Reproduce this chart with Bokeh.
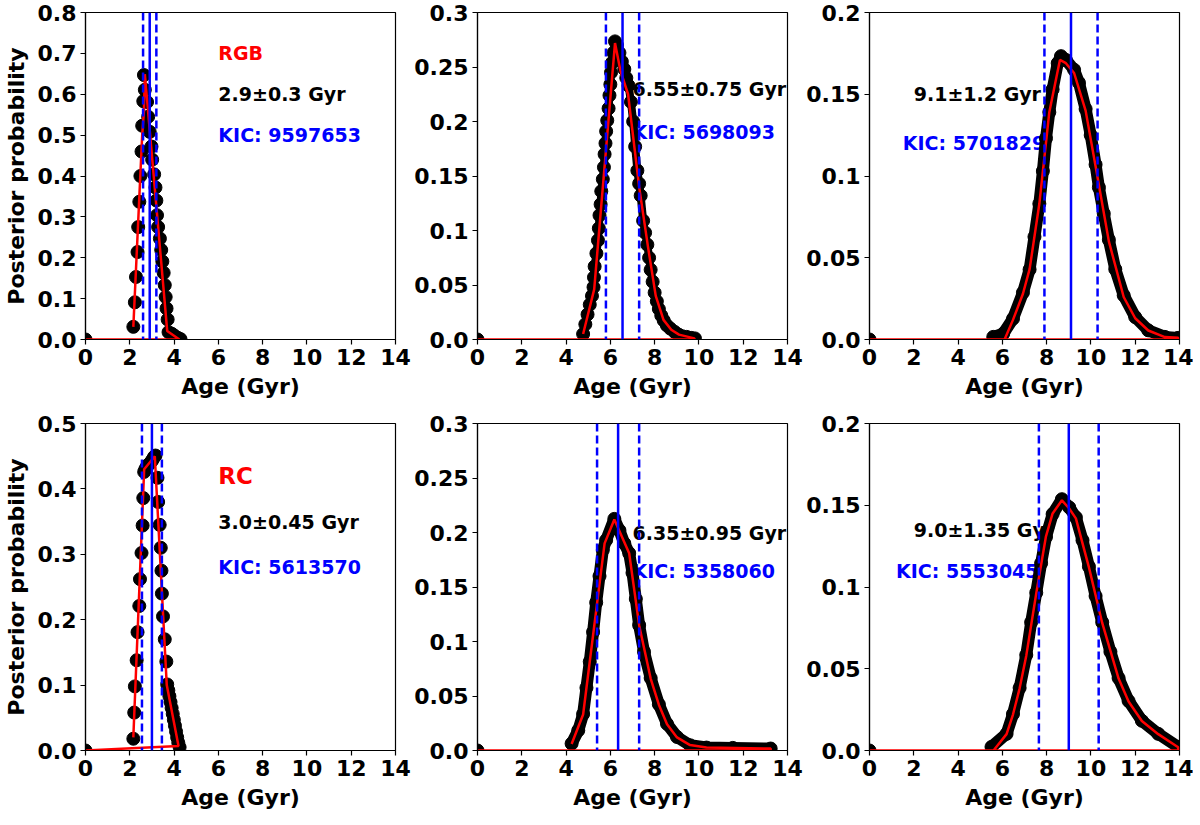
from bokeh.plotting import figure
from bokeh.layouts import column, row
from bokeh.models import Range1d, FixedTicker, Span, CustomJSTickFormatter
from bokeh.core.properties import value
from bokeh.embed import file_html
from bokeh.resources import INLINE

# panels: RGB top row, RC bottom row (young, mid, old star)
kic = ["KIC: 9597653", "KIC: 5698093", "KIC: 5701829",
       "KIC: 5613570", "KIC: 5358060", "KIC: 5553045"]
age_med = [2.9, 6.55, 9.1, 3.0, 6.35, 9.0]
age_err = [0.3, 0.75, 1.2, 0.45, 0.95, 1.35]
age_text = ["2.9±0.3 Gyr", "6.55±0.75 Gyr", "9.1±1.2 Gyr",
            "3.0±0.45 Gyr", "6.35±0.95 Gyr", "9.0±1.35 Gyr"]
age_text_x = [6, 7, 2, 6, 7, 2]
age_text_y = [0.6, 0.23, 0.15, 0.35, 0.2, 0.135]
kic_x = [6, 7, 1.5, 6, 7, 1.2]
kic_y = [0.5, 0.19, 0.12, 0.28, 0.165, 0.11]
branch = ["RGB", "", "", "RC", "", ""]
branch_x = [6, 6, 6, 6, 6, 6]
branch_y = [0.7, 0, 0, 0.42, 0, 0]
ymax = [0.8, 0.3, 0.2, 0.5, 0.3, 0.2]

xticks = [0, 2, 4, 6, 8, 10, 12, 14]
yticks = [
    [0, 0.1, 0.2, 0.3, 0.4, 0.5, 0.6, 0.7, 0.8],
    [0, 0.05, 0.1, 0.15, 0.2, 0.25, 0.3],
    [0, 0.05, 0.1, 0.15, 0.2],
    [0, 0.1, 0.2, 0.3, 0.4, 0.5],
    [0, 0.05, 0.1, 0.15, 0.2, 0.25, 0.3],
    [0, 0.05, 0.1, 0.15, 0.2],
]

# posterior samples (black dots)
age_tl = [0, 2.16, 2.23, 2.28, 2.35, 2.38, 2.43, 2.48, 2.53, 2.56, 2.61, 2.64,
          2.68, 2.78, 2.83, 2.90, 2.98, 3.01, 3.10, 3.16, 3.20, 3.23, 3.28, 3.36,
          3.42, 3.47, 3.53, 3.58, 3.62, 3.66, 3.71, 3.75, 3.90, 4.02, 4.17, 4.29]
post_tl = [0, 0.031, 0.091, 0.153, 0.214, 0.275, 0.337, 0.400, 0.460, 0.523, 0.583, 0.647,
           0.611, 0.581, 0.545, 0.508, 0.472, 0.440, 0.404, 0.372, 0.340, 0.304, 0.275, 0.247,
           0.219, 0.191, 0.163, 0.133, 0.104, 0.076, 0.049, 0.018, 0.014, 0.009, 0.004, 0.001]

age_tm = [0, 4.77, 4.87, 4.97, 5.07, 5.17, 5.24, 5.26, 5.29, 5.37, 5.44, 5.48, 5.51,
          5.56, 5.59, 5.66, 5.71, 5.74, 5.78, 5.81, 5.86, 5.92, 5.96, 6.00, 6.03, 6.08,
          6.14, 6.21, 6.30, 6.41, 6.52, 6.63, 6.72, 6.82, 6.93, 7.03, 7.12, 7.22, 7.30,
          7.37, 7.48, 7.57, 7.67, 7.75, 7.82, 7.91, 8.00, 8.10, 8.19, 8.30, 8.41, 8.55,
          8.71, 8.90, 9.08, 9.25, 9.45, 9.65, 9.82]
post_tm = [0, 0.005, 0.014, 0.023, 0.032, 0.040, 0.048, 0.057, 0.067, 0.079, 0.091, 0.102,
           0.114, 0.124, 0.136, 0.147, 0.158, 0.170, 0.180, 0.191, 0.201, 0.212, 0.224,
           0.234, 0.245, 0.254, 0.263, 0.2735, 0.270, 0.263, 0.255, 0.248, 0.240, 0.233,
           0.218, 0.200, 0.177, 0.155, 0.143, 0.132, 0.109, 0.098, 0.087, 0.075, 0.064,
           0.053, 0.043, 0.035, 0.028, 0.022, 0.0175, 0.013, 0.010, 0.007, 0.0045, 0.003,
           0.0024, 0.0015, 0.001]

age_tr = [0, 5.59, 6.04, 6.48, 6.93, 7.23, 7.45, 7.67, 7.83, 7.97, 8.12, 8.27, 8.50,
          8.65, 8.87, 9.24, 9.46, 9.76, 9.99, 10.21, 10.36, 10.58, 10.81, 11.10, 11.48,
          12.0, 12.59, 13.34, 13.94]
post_tr = [0, 0.0016, 0.0036, 0.0127, 0.0287, 0.0428, 0.0628, 0.083, 0.103, 0.123, 0.139,
           0.153, 0.169, 0.1733, 0.171, 0.165, 0.157, 0.141, 0.125, 0.107, 0.093, 0.077,
           0.061, 0.043, 0.027, 0.0137, 0.0056, 0.0016, 0.001]

age_bl = [0, 2.16, 2.20, 2.23, 2.31, 2.35, 2.43, 2.46, 2.53, 2.58, 2.61, 2.65, 2.70,
          2.75, 2.80, 2.85, 2.90, 2.95, 3.00, 3.05, 3.10, 3.16, 3.25, 3.28, 3.35, 3.40,
          3.43, 3.45, 3.50, 3.58, 3.65, 3.69, 3.74, 3.79, 3.84, 3.89, 3.94, 3.99, 4.04,
          4.09, 4.14, 4.19, 4.25]
post_bl = [0, 0.018, 0.058, 0.098, 0.138, 0.181, 0.221, 0.262, 0.302, 0.344, 0.386, 0.426,
           0.430, 0.433, 0.436, 0.437, 0.439, 0.441, 0.443, 0.446, 0.449, 0.451, 0.417,
           0.380, 0.345, 0.310, 0.275, 0.240, 0.205, 0.170, 0.136, 0.101, 0.092, 0.083,
           0.074, 0.065, 0.056, 0.047, 0.038, 0.029, 0.020, 0.012, 0.005]

age_bm = [0, 4.25, 4.55, 4.77, 4.92, 5.07, 5.22, 5.36, 5.51, 5.66, 5.81, 6.18, 6.41,
          6.63, 6.85, 7.00, 7.15, 7.30, 7.52, 7.82, 8.19, 8.56, 9.01, 9.60, 10.34, 11.53,
          13.24]
post_bm = [0, 0.0063, 0.0184, 0.0334, 0.0575, 0.0815, 0.1086, 0.1357, 0.160, 0.184, 0.193,
           0.2125, 0.202, 0.190, 0.181, 0.163, 0.139, 0.115, 0.0906, 0.0665, 0.0424, 0.0244,
           0.0124, 0.0048, 0.0027, 0.0024, 0.0018]

age_br = [0, 5.51, 6.19, 6.48, 6.78, 7.08, 7.30, 7.53, 7.75, 7.97, 8.27, 8.69, 9.02,
          9.32, 9.62, 9.91, 10.21, 10.51, 10.88, 11.25, 11.70, 12.30, 13.04, 13.94]
post_br = [0, 0.0022, 0.0102, 0.0223, 0.0383, 0.0584, 0.0784, 0.0965, 0.1145, 0.1306,
           0.1446, 0.1537, 0.1487, 0.1426, 0.1286, 0.1125, 0.0945, 0.0784, 0.0604, 0.0443,
           0.0303, 0.0182, 0.0102, 0.0022]

# red curve (wraps back to age 0 along the axis)
fit_age_tl = [2.16, 2.56, 2.64, 2.68, 3.69, 4.24, 0]
fit_post_tl = [0.031, 0.50, 0.56, 0.649, 0.021, 0.0, 0]
fit_age_tm = [4.77, 5.27, 6.21, 6.45, 6.8, 7.3, 7.7, 8.05, 8.4, 8.75, 9.1, 9.8, 9.8, 0]
fit_post_tm = [0.005, 0.046, 0.272, 0.247, 0.225, 0.14, 0.085, 0.04, 0.018, 0.009, 0.0045,
               0.001, 0, 0]
fit_age_tr = [6.1, 6.48, 6.93, 7.23, 7.67, 8.12, 8.6, 8.87, 9.24, 9.76, 10.21, 10.81,
              11.48, 12.0, 12.59, 13.34, 13.94, 13.94, 0]
fit_post_tr = [0.0, 0.012, 0.028, 0.043, 0.083, 0.139, 0.171, 0.169, 0.163, 0.14, 0.106,
               0.06, 0.026, 0.013, 0.0055, 0.0015, 0.001, 0, 0]
fit_age_bl = [2.16, 2.65, 3.13, 3.67, 4.2, 0]
fit_post_bl = [0.02, 0.43, 0.45, 0.10, 0.007, 0]
fit_age_bm = [4.25, 4.77, 5.74, 6.18, 6.85, 7.3, 7.82, 8.19, 8.56, 9.01, 9.6, 10.34, 13.24,
              13.24, 0]
fit_post_bm = [0.006, 0.033, 0.19, 0.212, 0.181, 0.115, 0.066, 0.042, 0.024, 0.012, 0.005,
               0.0027, 0.0018, 0, 0]
fit_age_br = [5.6, 6.19, 6.48, 6.78, 7.08, 7.53, 7.97, 8.27, 8.69, 9.02, 9.32, 9.91, 10.51,
              11.25, 11.70, 12.30, 13.04, 13.94, 13.94, 0]
fit_post_br = [0.0, 0.01, 0.022, 0.038, 0.058, 0.096, 0.131, 0.145, 0.153, 0.148, 0.142,
               0.112, 0.078, 0.044, 0.030, 0.018, 0.010, 0.002, 0, 0]

ages = [age_tl, age_tm, age_tr, age_bl, age_bm, age_br]
posts = [post_tl, post_tm, post_tr, post_bl, post_bm, post_br]
fit_ages = [fit_age_tl, fit_age_tm, fit_age_tr, fit_age_bl, fit_age_bm, fit_age_br]
fit_posts = [fit_post_tl, fit_post_tm, fit_post_tr, fit_post_bl, fit_post_bm, fit_post_br]
band = [0, 8, 12, 0, 12, 12]

FONT = "DejaVu Sans"


def make_panel(i):
    col = i % 3
    top = i < 3
    p = figure(frame_width=310, frame_height=327,
               x_range=Range1d(0, 14), y_range=Range1d(0, ymax[i]),
               output_backend="svg", toolbar_location=None,
               min_border_left=80 if col == 0 else 64,
               min_border_right=16 if col < 2 else 14,
               min_border_top=12,
               min_border_bottom=72 if top else 60)
    p.background_fill_color = "white"
    p.border_fill_color = "white"
    p.outline_line_color = "black"
    p.outline_line_width = 1.2
    p.xgrid.visible = False
    p.ygrid.visible = False

    p.xaxis.ticker = FixedTicker(ticks=xticks, minor_ticks=[])
    p.yaxis.ticker = FixedTicker(ticks=yticks[i], minor_ticks=[])
    p.yaxis.formatter = CustomJSTickFormatter(
        code="return tick == 0 ? '0.0' : String(Math.round(tick * 100) / 100);")
    p.xaxis.axis_label = "Age (Gyr)"
    if col == 0:
        p.yaxis.axis_label = "Posterior probability"
    for ax in p.axis:
        ax.major_label_text_font = FONT
        ax.major_label_text_font_style = "bold"
        ax.major_label_text_font_size = "22px"
        ax.major_label_text_color = "black"
        ax.axis_label_text_font = FONT
        ax.axis_label_text_font_style = "bold"
        ax.axis_label_text_font_size = "22px"
        ax.axis_label_text_color = "black"
        ax.axis_label_standoff = 6
        ax.major_label_standoff = 4
        ax.major_tick_in = 0
        ax.major_tick_out = 5
        ax.minor_tick_in = 0
        ax.minor_tick_out = 0
        ax.axis_line_width = 1.2
        ax.major_tick_line_width = 1.2

    # annotations
    p.text(x=[age_text_x[i]], y=[age_text_y[i]], text=[age_text[i]],
           text_font=value(FONT), text_font_style="bold", text_font_size="19px",
           text_color="black", text_baseline="alphabetic", text_align="left")
    p.text(x=[kic_x[i]], y=[kic_y[i]], text=[kic[i]],
           text_font=value(FONT), text_font_style="bold", text_font_size="19px",
           text_color="blue", text_baseline="alphabetic", text_align="left")
    if branch[i]:
        p.text(x=[branch_x[i]], y=[branch_y[i]], text=[branch[i]],
               text_font=value(FONT), text_font_style="bold",
               text_font_size="19px" if top else "23px",
               text_color="red", text_baseline="alphabetic", text_align="left")

    # posterior points
    if band[i]:
        p.line(ages[i][1:], posts[i][1:], line_width=band[i], line_color="black",
               line_join="round", line_cap="round")
    p.scatter(ages[i], posts[i], size=13, fill_color="black", line_color="black")
    p.line(fit_ages[i], fit_posts[i], line_width=2.5, line_color="red")

    # median and 1-sigma
    p.add_layout(Span(location=age_med[i], dimension="height",
                      line_color="blue", line_width=2.5))
    for loc in (age_med[i] - age_err[i], age_med[i] + age_err[i]):
        p.add_layout(Span(location=loc, dimension="height", line_color="blue",
                          line_width=2.5, line_dash="8 4"))
    return p


panels = [make_panel(i) for i in range(6)]
layout = column(row(*panels[:3]), row(*panels[3:]))

open("out.html", "w").write(file_html(layout, INLINE))
